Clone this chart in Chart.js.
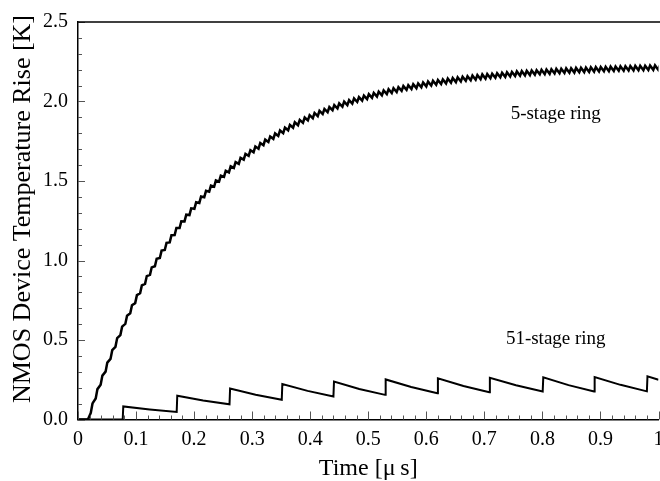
<!DOCTYPE html>
<html>
<head>
<meta charset="utf-8">
<script src="https://cdn.jsdelivr.net/npm/chart.js@4"></script>
<style>
  html, body { margin: 0; padding: 0; background: #fff; overflow: hidden; }
  #wrap { width: 700px; height: 481px; }
</style>
</head>
<body>
<div id="wrap"><canvas id="tempChart" width="700" height="481"></canvas></div>
<script>
// time axis in microseconds, temperature rise in kelvin
var xTickValues = [0, 0.1, 0.2, 0.3, 0.4, 0.5, 0.6, 0.7, 0.8, 0.9, 1];
var yTickValues = [0, 0.5, 1.0, 1.5, 2.0, 2.5];
var seriesNames = ["5-stage ring", "51-stage ring"];
var yTitle = "NMOS Device Temperature Rise [K]";

// 5-stage ring: trough / peak of every oscillation period
var ring5Time = [
  0, 0.017,
  0.022, 0.025, 0.0305, 0.0335, 0.039, 0.042, 0.0475, 0.0505,
  0.056, 0.059, 0.0645, 0.0675, 0.073, 0.076, 0.0815, 0.0845,
  0.09, 0.093, 0.0985, 0.1015, 0.107, 0.11, 0.1155, 0.1185,
  0.124, 0.127, 0.1325, 0.1355, 0.141, 0.144, 0.1495, 0.1525,
  0.158, 0.161, 0.1665, 0.1695, 0.175, 0.178, 0.1835, 0.1865,
  0.192, 0.195, 0.2005, 0.2035, 0.209, 0.212, 0.2175, 0.2205,
  0.226, 0.229, 0.2345, 0.2375, 0.243, 0.246, 0.2515, 0.2545,
  0.26, 0.263, 0.2685, 0.2715, 0.277, 0.28, 0.2855, 0.2885,
  0.294, 0.297, 0.3025, 0.3055, 0.311, 0.314, 0.3195, 0.3225,
  0.328, 0.331, 0.3365, 0.3395, 0.345, 0.348, 0.3535, 0.3565,
  0.362, 0.365, 0.3705, 0.3735, 0.379, 0.382, 0.3875, 0.3905,
  0.396, 0.399, 0.4045, 0.4075, 0.413, 0.416, 0.4215, 0.4245,
  0.43, 0.433, 0.4385, 0.4415, 0.447, 0.45, 0.4555, 0.4585,
  0.464, 0.467, 0.4725, 0.4755, 0.481, 0.484, 0.4895, 0.4925,
  0.498, 0.501, 0.5065, 0.5095, 0.515, 0.518, 0.5235, 0.5265,
  0.532, 0.535, 0.5405, 0.5435, 0.549, 0.552, 0.5575, 0.5605,
  0.566, 0.569, 0.5745, 0.5775, 0.583, 0.586, 0.5915, 0.5945,
  0.6, 0.603, 0.6085, 0.6115, 0.617, 0.62, 0.6255, 0.6285,
  0.634, 0.637, 0.6425, 0.6455, 0.651, 0.654, 0.6595, 0.6625,
  0.668, 0.671, 0.6765, 0.6795, 0.685, 0.688, 0.6935, 0.6965,
  0.702, 0.705, 0.7105, 0.7135, 0.719, 0.722, 0.7275, 0.7305,
  0.736, 0.739, 0.7445, 0.7475, 0.753, 0.756, 0.7615, 0.7645,
  0.77, 0.773, 0.7785, 0.7815, 0.787, 0.79, 0.7955, 0.7985,
  0.804, 0.807, 0.8125, 0.8155, 0.821, 0.824, 0.8295, 0.8325,
  0.838, 0.841, 0.8465, 0.8495, 0.855, 0.858, 0.8635, 0.8665,
  0.872, 0.875, 0.8805, 0.8835, 0.889, 0.892, 0.8975, 0.9005,
  0.906, 0.909, 0.9145, 0.9175, 0.923, 0.926, 0.9315, 0.9345,
  0.94, 0.943, 0.9485, 0.9515, 0.957, 0.96, 0.9655, 0.9685,
  0.974, 0.977, 0.9825, 0.9855, 0.991, 0.994, 0.9995, 1.0025
];
var ring5Temp = [
  0, 0,
  0.041, 0.101, 0.132, 0.191, 0.218, 0.276, 0.301, 0.358,
  0.381, 0.436, 0.457, 0.512, 0.531, 0.584, 0.601, 0.653,
  0.668, 0.719, 0.732, 0.782, 0.794, 0.843, 0.853, 0.902,
  0.910, 0.957, 0.964, 1.011, 1.016, 1.062, 1.066, 1.111,
  1.114, 1.159, 1.160, 1.204, 1.204, 1.247, 1.246, 1.288,
  1.286, 1.328, 1.325, 1.366, 1.362, 1.403, 1.398, 1.438,
  1.432, 1.471, 1.464, 1.504, 1.496, 1.534, 1.526, 1.564,
  1.554, 1.592, 1.582, 1.619, 1.608, 1.645, 1.634, 1.670,
  1.658, 1.694, 1.681, 1.717, 1.703, 1.739, 1.725, 1.760,
  1.745, 1.780, 1.765, 1.799, 1.783, 1.818, 1.801, 1.836,
  1.819, 1.853, 1.835, 1.869, 1.851, 1.884, 1.866, 1.899,
  1.881, 1.914, 1.895, 1.928, 1.908, 1.941, 1.921, 1.953,
  1.933, 1.965, 1.945, 1.977, 1.956, 1.988, 1.967, 1.999,
  1.977, 2.009, 1.987, 2.019, 1.997, 2.028, 2.006, 2.037,
  2.015, 2.046, 2.023, 2.054, 2.031, 2.062, 2.039, 2.069,
  2.046, 2.077, 2.053, 2.084, 2.060, 2.090, 2.067, 2.097,
  2.073, 2.103, 2.079, 2.109, 2.084, 2.114, 2.090, 2.120,
  2.095, 2.125, 2.100, 2.130, 2.105, 2.135, 2.110, 2.139,
  2.114, 2.144, 2.118, 2.148, 2.122, 2.152, 2.126, 2.156,
  2.130, 2.159, 2.134, 2.163, 2.137, 2.166, 2.140, 2.170,
  2.143, 2.173, 2.146, 2.175, 2.149, 2.178, 2.152, 2.181,
  2.155, 2.184, 2.157, 2.186, 2.160, 2.189, 2.162, 2.191,
  2.164, 2.193, 2.166, 2.195, 2.169, 2.197, 2.171, 2.199,
  2.172, 2.201, 2.174, 2.203, 2.176, 2.205, 2.178, 2.206,
  2.179, 2.208, 2.181, 2.209, 2.182, 2.211, 2.184, 2.212,
  2.185, 2.213, 2.186, 2.215, 2.188, 2.216, 2.189, 2.217,
  2.190, 2.218, 2.191, 2.219, 2.192, 2.220, 2.193, 2.221,
  2.194, 2.222, 2.195, 2.223, 2.196, 2.224, 2.197, 2.225,
  2.197, 2.225, 2.198, 2.226, 2.199, 2.227, 2.200, 2.228
];

// 51-stage ring: jump, mid-decay and pre-jump values of each period
var ring51Time = [
  0, 0.077,
  0.078, 0.1235, 0.170,
  0.171, 0.2155, 0.261,
  0.262, 0.306, 0.351,
  0.352, 0.3955, 0.440,
  0.441, 0.4845, 0.529,
  0.530, 0.574, 0.619,
  0.620, 0.664, 0.7085,
  0.7095, 0.7545, 0.8005,
  0.8015, 0.845, 0.889,
  0.890, 0.9345, 0.980,
  0.981, 1.0
];
var ring51Temp = [
  0, 0,
  0.082, 0.063, 0.047,
  0.149, 0.120, 0.096,
  0.195, 0.156, 0.124,
  0.223, 0.180, 0.145,
  0.238, 0.192, 0.155,
  0.252, 0.204, 0.165,
  0.259, 0.211, 0.172,
  0.262, 0.215, 0.176,
  0.265, 0.216, 0.176,
  0.267, 0.218, 0.177,
  0.272, 0.250
];

function toPoints(xs, ys) {
  return xs.map((x, i) => ({ x: x, y: ys[i] }));
}

const serif = "'Liberation Serif', 'Times New Roman', serif";

// inward tick marks, top frame line, y title and the curve labels
const frameAndLabels = {
  id: "frameAndLabels",
  afterDraw(chart) {
    const ctx = chart.ctx;
    const area = chart.chartArea;
    const xs = chart.scales.x;
    const ys = chart.scales.y;
    ctx.save();
    ctx.strokeStyle = "#555";
    ctx.lineWidth = 1;
    for (let i = 0; i <= 50; i++) {
      const px = Math.round(xs.getPixelForValue(i / 50)) + 0.5;
      const len = i % 5 === 0 ? 8 : 4;
      ctx.beginPath();
      ctx.moveTo(px, area.bottom);
      ctx.lineTo(px, area.bottom - len);
      ctx.stroke();
    }
    for (let i = 0; i <= 25; i++) {
      const py = Math.round(ys.getPixelForValue(i / 10)) + 0.5;
      const len = i % 5 === 0 ? 7 : 4;
      ctx.beginPath();
      ctx.moveTo(area.left, py);
      ctx.lineTo(area.left + len, py);
      ctx.stroke();
    }
    ctx.strokeStyle = "#000";
    ctx.lineWidth = 1.5;
    ctx.beginPath();
    ctx.moveTo(area.left, area.top);
    ctx.lineTo(chart.width, area.top);
    ctx.stroke();

    ctx.fillStyle = "#000";
    ctx.textAlign = "center";
    ctx.textBaseline = "middle";

    ctx.save();
    ctx.translate(23, 209);
    ctx.rotate(-Math.PI / 2);
    ctx.font = "26px " + serif;
    ctx.fillText(yTitle, 0, 0);
    ctx.restore();

    ctx.font = "19px " + serif;
    ctx.fillText(seriesNames[0], xs.getPixelForValue(0.823), ys.getPixelForValue(1.922));
    ctx.fillText(seriesNames[1], xs.getPixelForValue(0.823), ys.getPixelForValue(0.506));
    ctx.restore();
  }
};

const ctx = document.getElementById("tempChart").getContext("2d");
const tempChart = new Chart(ctx, {
  type: "line",
  data: {
    datasets: [
      {
        label: seriesNames[0],
        data: toPoints(ring5Time, ring5Temp),
        borderColor: "#000",
        borderWidth: 2.5,
        pointRadius: 0,
        tension: 0,
        fill: false,
      },
      {
        label: seriesNames[1],
        data: toPoints(ring51Time, ring51Temp),
        borderColor: "#000",
        borderWidth: 2,
        pointRadius: 0,
        tension: 0,
        fill: false,
      },
    ],
  },
  options: {
    responsive: false,
    animation: false,
    layout: { padding: { top: 17, right: 41.5, left: 0, bottom: 0 } },
    plugins: {
      legend: { display: false },
      tooltip: { enabled: false },
    },
    scales: {
      x: {
        type: "linear",
        min: 0,
        max: 1,
        afterBuildTicks: (scale) => {
          scale.ticks = xTickValues.map((v) => ({ value: v }));
        },
        afterFit: (scale) => {
          scale.height = 61.5;
        },
        grid: { display: false, drawTicks: false },
        border: { display: true, color: "#000", width: 1.5 },
        ticks: {
          color: "#000",
          padding: 8,
          maxRotation: 0,
          autoSkip: false,
          font: { family: serif, size: 20 },
          callback: (v) => String(v),
        },
        title: {
          display: true,
          text: "Time [\u03bc\u2009s]",
          color: "#000",
          font: { family: serif, size: 24, lineHeight: 1 },
          padding: 0,
        },
      },
      y: {
        type: "linear",
        min: 0,
        max: 2.5,
        afterBuildTicks: (scale) => {
          scale.ticks = yTickValues.map((v) => ({ value: v }));
        },
        afterFit: (scale) => {
          scale.width = 78;
        },
        grid: { display: false, drawTicks: false },
        border: { display: true, color: "#000", width: 1.5 },
        ticks: {
          color: "#000",
          padding: 10,
          autoSkip: false,
          font: { family: serif, size: 20 },
          callback: (v) => v.toFixed(1),
        },
        title: { display: false },
      },
    },
  },
  plugins: [frameAndLabels],
});
</script>
</body>
</html>
